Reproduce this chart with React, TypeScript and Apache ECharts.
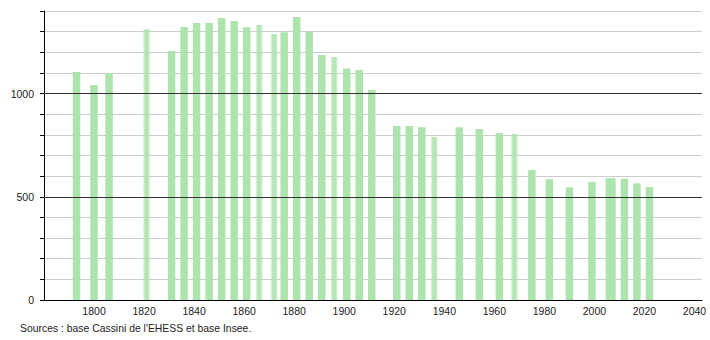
import React, { useEffect, useRef } from "react";
import * as echarts from "echarts";

const years = [1793, 1800, 1806, 1821, 1831, 1836, 1841, 1846, 1851, 1856, 1861, 1866, 1872, 1876, 1881, 1886, 1891, 1896, 1901, 1906, 1911, 1921, 1926, 1931, 1936, 1946, 1954, 1962, 1968, 1975, 1982, 1990, 1999, 2006, 2007, 2012, 2017, 2022];
const population = [1105, 1042, 1099, 1311, 1206, 1323, 1342, 1342, 1366, 1352, 1321, 1332, 1289, 1297, 1371, 1300, 1187, 1177, 1122, 1114, 1017, 843, 843, 837, 790, 837, 828, 809, 804, 630, 585, 546, 572, 590, 590, 587, 565, 548];
const blurredYears = [1821, 1866, 1872, 1896, 1936, 1968];
const yMajorLabels = [0, 500, 1000];
const darkLines = [500, 1000];
const sourceText = "Sources : base Cassini de l'EHESS et base Insee.";

const GREEN = "#ade3ad";
const FONT = "Liberation Sans, Arial, sans-serif";

export default function App() {
  const ref = useRef<HTMLDivElement>(null);
  useEffect(() => {
    if (!ref.current) return;
    const chart = echarts.init(ref.current, null, { renderer: "svg" });
    const blurColor = new echarts.graphic.LinearGradient(0, 0, 1, 0, [
      { offset: 0, color: "rgba(173,227,173,0.15)" },
      { offset: 0.3, color: "rgba(173,227,173,0.9)" },
      { offset: 0.7, color: "rgba(173,227,173,0.9)" },
      { offset: 1, color: "rgba(173,227,173,0.15)" },
    ]);
    const data = years.map((y, i) => {
      const item: any = { value: [y, population[i]] };
      if (blurredYears.includes(y)) item.itemStyle = { color: blurColor };
      return item;
    });
    chart.setOption({
      animation: false,
      grid: { left: 44, right: 8, top: 11, bottom: 40 },
      textStyle: { fontFamily: FONT },
      xAxis: {
        type: "value",
        min: 1780,
        max: 2043,
        interval: 20,
        axisLine: { show: true, onZero: false, lineStyle: { color: "#000", width: 1 } },
        axisTick: { show: false },
        splitLine: { show: false },
        axisLabel: {
          color: "#222",
          fontSize: 10.5,
          margin: 5,
          fontFamily: FONT,
          formatter: (v: number) => (v % 20 === 0 && v > 1780 ? String(v) : ""),
        },
      },
      yAxis: {
        type: "value",
        min: 0,
        max: 1400,
        interval: 100,
        axisLine: { show: true, lineStyle: { color: "#000", width: 1 } },
        axisTick: { show: true, length: 4, lineStyle: { color: "#000" } },
        splitLine: { show: true, lineStyle: { color: "#cccccc", width: 1 } },
        axisLabel: {
          color: "#222",
          fontSize: 10.5,
          margin: 10,
          fontFamily: FONT,
          formatter: (v: number) => (yMajorLabels.includes(v) ? String(v) : ""),
        },
      },
      series: [
        {
          type: "bar",
          barWidth: 7.5,
          itemStyle: { color: GREEN },
          data,
          markLine: {
            silent: true,
            symbol: "none",
            label: { show: false },
            lineStyle: { color: "#333", width: 1, type: "solid" },
            data: darkLines.map((v) => ({ yAxis: v })),
          },
        },
      ],
      graphic: [
        {
          type: "text",
          left: 20,
          top: 323,
          style: {
            text: sourceText,
            fill: "#222",
            fontSize: 10.4,
            fontFamily: FONT,
          },
        },
      ],
    });
    return () => chart.dispose();
  }, []);
  return (
    <div
      ref={ref}
      style={{ position: "fixed", left: 0, top: 0, width: 710, height: 340, background: "#fff" }}
    />
  );
}
